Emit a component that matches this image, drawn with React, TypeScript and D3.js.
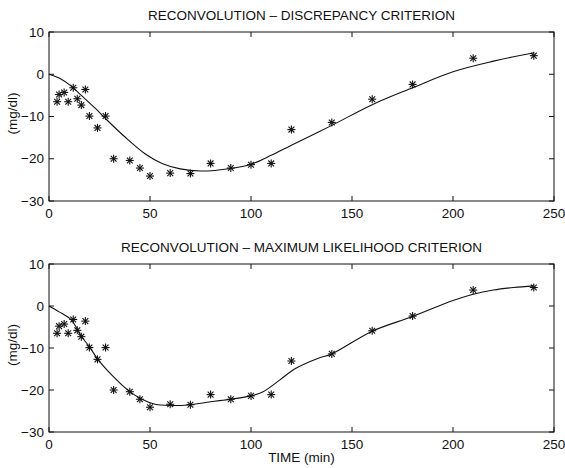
import React from "react";
import * as d3 from "d3";

const W = 565;
const H = 468;

const titles = [
  "RECONVOLUTION \u2013 DISCREPANCY CRITERION",
  "RECONVOLUTION \u2013 MAXIMUM LIKELIHOOD CRITERION",
];
const xTicks = [0, 50, 100, 150, 200, 250];
const yTicks = [-30, -20, -10, 0, 10];

// measured samples (same in both panels)
const sampleTimes = [4, 5, 7.5, 9.5, 12, 14, 16, 18, 20, 24, 28, 32, 40, 45, 50, 60, 70, 80, 90, 100, 110, 120, 140, 160, 180, 210, 240];
const sampleValues = [-6.5, -4.8, -4.3, -6.5, -3.2, -5.8, -7.3, -3.6, -9.9, -12.7, -9.9, -20.0, -20.4, -22.2, -24.1, -23.4, -23.5, -21.1, -22.2, -21.4, -21.1, -13.1, -11.4, -5.9, -2.4, 3.8, 4.4];

// discrepancy criterion curve
const discTimes = [0, 5, 11, 16, 23, 28, 37.5, 47.5, 56, 65, 75, 90, 100, 110, 120, 140, 160, 180, 200, 220, 240];
const discValues = [0, -0.9, -2.8, -5.0, -8.1, -10.5, -14.8, -18.8, -21.1, -22.4, -22.9, -22.3, -21.3, -19.2, -16.8, -12.1, -7.2, -3.2, 0.6, 3.1, 5.1];

// maximum likelihood curve
const mlTimes = [0, 5, 11, 16, 20, 24.5, 31, 40, 46, 52.5, 60, 70, 80, 90, 100, 106, 114, 122, 133, 140, 160, 180, 200, 210, 220, 230, 240];
const mlValues = [0, -1.4, -3.3, -7.2, -9.7, -12.9, -16.4, -20.4, -22.2, -23.4, -23.7, -23.5, -22.8, -22.2, -21.4, -20.4, -17.7, -14.9, -12.5, -11.4, -6.0, -2.5, 1.3, 2.8, 3.8, 4.4, 4.8];

const FONT = "'Liberation Sans', Arial, Helvetica, sans-serif";
const INK = "#111";

function Panel({ top, bottom, title, curveX, curveY, showXLabel }: any) {
  const x = d3.scaleLinear().domain([0, 250]).range([49, 554]);
  const y = d3.scaleLinear().domain([-30, 10]).range([bottom, top]);
  const line = d3
    .line<[number, number]>()
    .x((d) => x(d[0]))
    .y((d) => y(d[1]))
    .curve(d3.curveCatmullRom.alpha(0.5));
  const pts: [number, number][] = curveX.map((t: number, i: number) => [t, curveY[i]]);
  const tl = 5;
  const r = 4;
  const rd = 2.9;
  return (
    <g>
      <text x={(49 + 554) / 2} y={top - 12} textAnchor="middle" fontFamily={FONT} fontSize={13.5} fill={INK}>
        {title}
      </text>
      <rect x={49} y={top} width={505} height={bottom - top} fill="none" stroke={INK} strokeWidth={1} />
      {xTicks.map((t) => (
        <g key={"x" + t}>
          <line x1={x(t)} x2={x(t)} y1={bottom} y2={bottom - tl} stroke={INK} />
          <line x1={x(t)} x2={x(t)} y1={top} y2={top + tl} stroke={INK} />
          <text x={x(t)} y={bottom + 17} textAnchor="middle" fontFamily={FONT} fontSize={13.5} fill={INK}>
            {t}
          </text>
        </g>
      ))}
      {yTicks.map((t) => (
        <g key={"y" + t}>
          <line x1={49} x2={49 + tl} y1={y(t)} y2={y(t)} stroke={INK} />
          <line x1={554} x2={554 - tl} y1={y(t)} y2={y(t)} stroke={INK} />
          <text x={44} y={y(t) + 4.5} textAnchor="end" fontFamily={FONT} fontSize={13.5} fill={INK}>
            {t < 0 ? "\u2212" + Math.abs(t) : t}
          </text>
        </g>
      ))}
      <text
        transform={`translate(17,${(top + bottom) / 2 - 3}) rotate(-90)`}
        textAnchor="middle"
        fontFamily={FONT}
        fontSize={13.5}
        fill={INK}
      >
        (mg/dl)
      </text>
      <path d={line(pts) || ""} fill="none" stroke={INK} strokeWidth={1.1} />
      {sampleTimes.map((t, i) => {
        const cx = x(t);
        const cy = y(sampleValues[i]);
        return (
          <g key={"p" + i} stroke={INK} strokeWidth={1.1}>
            <line x1={cx - r} x2={cx + r} y1={cy} y2={cy} />
            <line x1={cx} x2={cx} y1={cy - r} y2={cy + r} />
            <line x1={cx - rd} x2={cx + rd} y1={cy - rd} y2={cy + rd} />
            <line x1={cx - rd} x2={cx + rd} y1={cy + rd} y2={cy - rd} />
          </g>
        );
      })}
      {showXLabel && (
        <text x={(49 + 554) / 2} y={bottom + 30} textAnchor="middle" fontFamily={FONT} fontSize={13.5} fill={INK}>
          TIME (min)
        </text>
      )}
    </g>
  );
}

export default function App() {
  return (
    <svg
      width={W}
      height={H}
      viewBox={`0 0 ${W} ${H}`}
      style={{ position: "absolute", left: 0, top: 0, background: "#fff" }}
    >
      <rect width={W} height={H} fill="#fff" />
      <Panel top={32} bottom={201} title={titles[0]} curveX={discTimes} curveY={discValues} showXLabel={false} />
      <Panel top={264} bottom={432} title={titles[1]} curveX={mlTimes} curveY={mlValues} showXLabel={true} />
    </svg>
  );
}
